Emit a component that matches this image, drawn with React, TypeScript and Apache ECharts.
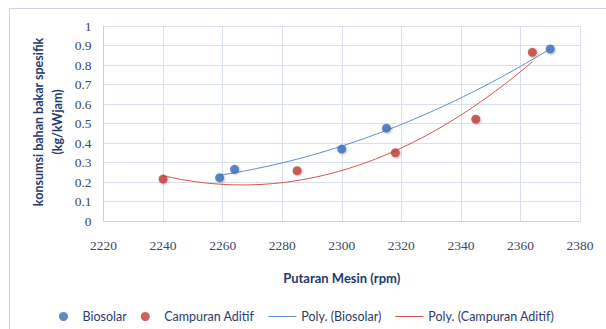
import React, { useEffect, useRef } from "react";
import * as echarts from "echarts";

// Engine speed (rpm) and specific fuel consumption (kg/kWjam)
const biosolarRpm = [2259, 2264, 2300, 2315, 2370];
const biosolarSfc = [0.222, 0.265, 0.369, 0.476, 0.882];
const aditifRpm = [2240, 2285, 2318, 2345, 2364];
const aditifSfc = [0.215, 0.258, 0.35, 0.522, 0.865];

const seriesNames = ["Biosolar", "Campuran Aditif", "Poly. (Biosolar)", "Poly. (Campuran Aditif)"];
const xTitle = "Putaran Mesin (rpm)";
const yTitle = "konsumsi bahan bakar spesifik\n(kg/kWjam)";

const BLUE = "#3A6DB6";
const RED = "#BF3B35";
const BLUE_LINE = "#5D8CD1";
const RED_LINE = "#D8524C";
const LINE_ICON = "path://M0,0 L28,0 L28,1 L0,1 Z";

// Least-squares quadratic fit (second-order polynomial trend line)
function quadFit(xs: number[], ys: number[]) {
  const n = xs.length;
  const x0 = xs.reduce((a, b) => a + b, 0) / n;
  const u = xs.map((x) => x - x0);
  let s0 = n, s1 = 0, s2 = 0, s3 = 0, s4 = 0, t0 = 0, t1 = 0, t2 = 0;
  u.forEach((v, i) => {
    s1 += v; s2 += v * v; s3 += v * v * v; s4 += v * v * v * v;
    t0 += ys[i]; t1 += v * ys[i]; t2 += v * v * ys[i];
  });
  const m = [
    [s0, s1, s2, t0],
    [s1, s2, s3, t1],
    [s2, s3, s4, t2],
  ];
  for (let c = 0; c < 3; c++) {
    let p = c;
    for (let r = c + 1; r < 3; r++) if (Math.abs(m[r][c]) > Math.abs(m[p][c])) p = r;
    [m[c], m[p]] = [m[p], m[c]];
    for (let r = 0; r < 3; r++) {
      if (r === c) continue;
      const f = m[r][c] / m[c][c];
      for (let k = c; k < 4; k++) m[r][k] -= f * m[c][k];
    }
  }
  const a = m[0][3] / m[0][0];
  const b = m[1][3] / m[1][1];
  const c = m[2][3] / m[2][2];
  return (x: number) => {
    const v = x - x0;
    return a + b * v + c * v * v;
  };
}

function trendPoints(xs: number[], ys: number[]) {
  const f = quadFit(xs, ys);
  const lo = Math.min(...xs);
  const hi = Math.max(...xs);
  const steps = 80;
  const pts: number[][] = [];
  for (let i = 0; i <= steps; i++) {
    const x = lo + ((hi - lo) * i) / steps;
    pts.push([x, f(x)]);
  }
  return pts;
}

export default function App() {
  const ref = useRef<HTMLDivElement>(null);

  useEffect(() => {
    if (!ref.current) return;
    const chart = echarts.init(ref.current, null, { renderer: "svg" });
    const serif = "'Liberation Serif', 'DejaVu Serif', serif";
    const sans = "Lato, 'Open Sans', sans-serif";
    const pointStyle = (color: string) => ({
      color,
      shadowBlur: 2,
      shadowColor: "rgba(0,0,0,0.3)",
      shadowOffsetX: 1,
      shadowOffsetY: 1,
    });
    chart.setOption({
      animation: false,
      backgroundColor: "#ffffff",
      grid: { left: 103.5, top: 26, right: 26, bottom: 108, containLabel: false },
      xAxis: {
        type: "value",
        min: 2220,
        max: 2380,
        interval: 20,
        axisLine: { show: true, lineStyle: { color: "#C8D2E2", width: 1 } },
        axisTick: { show: false },
        splitLine: { show: true, lineStyle: { color: "#D8E0EC", width: 1 } },
        axisLabel: {
          fontFamily: serif,
          fontSize: 13.5,
          color: "#3C4663",
          margin: 17,
          formatter: (v: number) => String(v),
        },
        name: xTitle,
        nameLocation: "middle",
        nameGap: 50,
        nameTextStyle: {
          fontFamily: sans,
          fontSize: 13,
          fontWeight: "bold",
          color: "#233A6E",
        },
      },
      yAxis: {
        type: "value",
        min: 0,
        max: 1,
        interval: 0.1,
        axisLine: { show: true, lineStyle: { color: "#C8D2E2", width: 1 } },
        axisTick: { show: false },
        splitLine: { show: true, lineStyle: { color: "#D8E0EC", width: 1 } },
        axisLabel: {
          fontFamily: serif,
          fontSize: 13.5,
          color: "#3C4663",
          margin: 12,
          formatter: (v: number) => String(parseFloat(v.toFixed(1))),
        },
      },
      legend: {
        left: 54,
        top: 305,
        itemGap: 14,
        itemWidth: 28,
        itemHeight: 9,
        textStyle: { fontFamily: sans, fontSize: 12.5, color: "#2B3C6A" },
        data: [
          { name: seriesNames[0], icon: "circle" },
          { name: seriesNames[1], icon: "circle" },
          { name: seriesNames[2], icon: LINE_ICON, itemStyle: { color: BLUE_LINE } },
          { name: seriesNames[3], icon: LINE_ICON, itemStyle: { color: RED_LINE } },
        ],
      },
      graphic: [
        {
          type: "rect",
          shape: { x: 9.5, y: 8.5, width: 700, height: 400 },
          style: { fill: "none", stroke: "#CBD3DF", lineWidth: 1 },
          silent: true,
        },
        {
          type: "text",
          x: 48,
          y: 122,
          rotation: Math.PI / 2,
          style: {
            text: yTitle,
            align: "center",
            verticalAlign: "middle",
            fontFamily: sans,
            fontSize: 12.5,
            fontWeight: "bold",
            lineHeight: 19,
            fill: "#233A6E",
          },
        },
      ],
      series: [
        {
          name: seriesNames[0],
          type: "scatter",
          symbol: "circle",
          symbolSize: 9,
          itemStyle: pointStyle(BLUE),
          data: biosolarRpm.map((x, i) => [x, biosolarSfc[i]]),
          z: 5,
        },
        {
          name: seriesNames[1],
          type: "scatter",
          symbol: "circle",
          symbolSize: 9,
          itemStyle: pointStyle(RED),
          data: aditifRpm.map((x, i) => [x, aditifSfc[i]]),
          z: 5,
        },
        {
          name: seriesNames[2],
          type: "line",
          showSymbol: false,
          symbol: "none",
          lineStyle: { color: BLUE_LINE, width: 1 },
          itemStyle: { color: BLUE_LINE },
          data: trendPoints(biosolarRpm, biosolarSfc),
          z: 3,
        },
        {
          name: seriesNames[3],
          type: "line",
          showSymbol: false,
          symbol: "none",
          lineStyle: { color: RED_LINE, width: 1 },
          itemStyle: { color: RED_LINE },
          data: trendPoints(aditifRpm, aditifSfc),
          z: 3,
        },
      ],
    });
    return () => chart.dispose();
  }, []);

  return (
    <div
      ref={ref}
      style={{ position: "fixed", left: 0, top: 0, width: 606, height: 329 }}
    />
  );
}
